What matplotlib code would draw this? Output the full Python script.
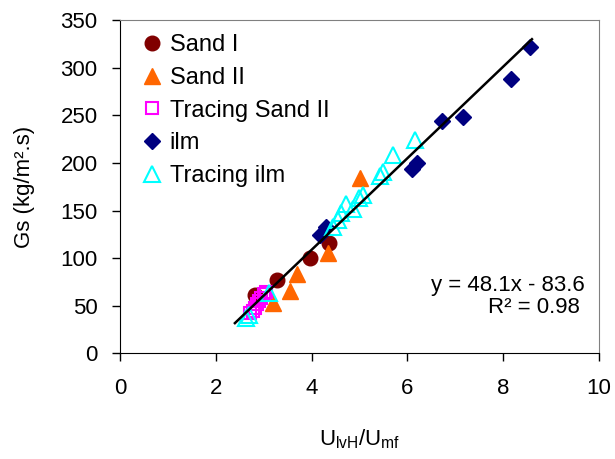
import numpy as np
import matplotlib
matplotlib.use('Agg')
import matplotlib.pyplot as plt

plt.rcParams['font.family'] = ['Liberation Sans', 'DejaVu Sans']

# data
sand1_x = [2.81, 3.27, 3.97, 4.37]
sand1_y = [61, 77, 100, 116]

sand2_x = [3.19, 3.55, 3.70, 4.34, 5.02]
sand2_y = [53, 66, 83, 106, 184]

tr_sand2_x = [2.72, 2.78, 2.82, 2.86, 2.90, 2.95, 3.00, 3.05]
tr_sand2_y = [42, 45, 48, 52, 55, 58, 62, 64]

ilm_x = [4.17, 4.30, 6.09, 6.21, 6.73, 7.16, 8.16, 8.56]
ilm_y = [124, 133, 194, 200, 244, 248, 288, 322]

tr_ilm_x = [2.63, 2.70, 3.12, 4.44, 4.55, 4.62, 4.72, 4.86, 5.00, 5.07, 5.42, 5.49, 5.70, 6.15]
tr_ilm_y = [37, 40, 63, 133, 140, 147, 157, 152, 163, 166, 186, 191, 208, 224]

slope = 48.1
intercept = -83.6
fit_range = [2.4, 8.6]

fig = plt.figure(figsize=(6.15, 4.59), dpi=100)
ax = fig.add_axes([0.195, 0.230, 0.779, 0.726])

ax.plot(sand1_x, sand1_y, 'o', color='#800000', ms=10.5, label='Sand I', zorder=3)
ax.plot(sand2_x, sand2_y, '^', color='#FF6600', ms=11, label='Sand II', zorder=3)
ax.plot(tr_sand2_x, tr_sand2_y, 's', mfc='none', mec='#FF00FF', mew=1.5, ms=8,
        label='Tracing Sand II', zorder=3)
ax.plot(ilm_x, ilm_y, 'D', color='#000080', ms=8.5, label='ilm', zorder=3)
ax.plot(tr_ilm_x, tr_ilm_y, '^', mfc='none', mec='#00FFFF', mew=1.5, ms=11,
        label='Tracing ilm', zorder=3)

xf = np.array(fit_range)
ax.plot(xf, slope * xf + intercept, color='black', lw=1.8, zorder=4)

ax.text(8.1, 71, 'y = 48.1x - 83.6', fontsize=16, ha='center', va='center')
ax.text(8.65, 48, 'R² = 0.98', fontsize=16, ha='center', va='center')

ax.set_xlim(0, 10)
ax.set_ylim(0, 350)
ax.set_xticks(range(0, 11, 2))
ax.set_yticks(range(0, 351, 50))
ax.tick_params(direction='out', length=6, width=1, labelsize=16, colors='black')
ax.tick_params(axis='y', pad=10)
ax.tick_params(axis='x', pad=12)
for s in ['top', 'right']:
    ax.spines[s].set_color('#808080')
for s in ['left', 'bottom']:
    ax.spines[s].set_color('black')

ax.set_ylabel('Gs (kg/m².s)', fontsize=16, labelpad=18)
ax.set_xlabel(r'$\mathregular{U_{lvH}/U_{mf}}$', fontsize=16, labelpad=20)

ax.legend(loc='upper left', frameon=False, fontsize=17, handletextpad=0.0,
          labelspacing=0.45, borderaxespad=0.2, handlelength=1.5,
          bbox_to_anchor=(0.0, 1.0))

fig.savefig('out.png', dpi=100)
